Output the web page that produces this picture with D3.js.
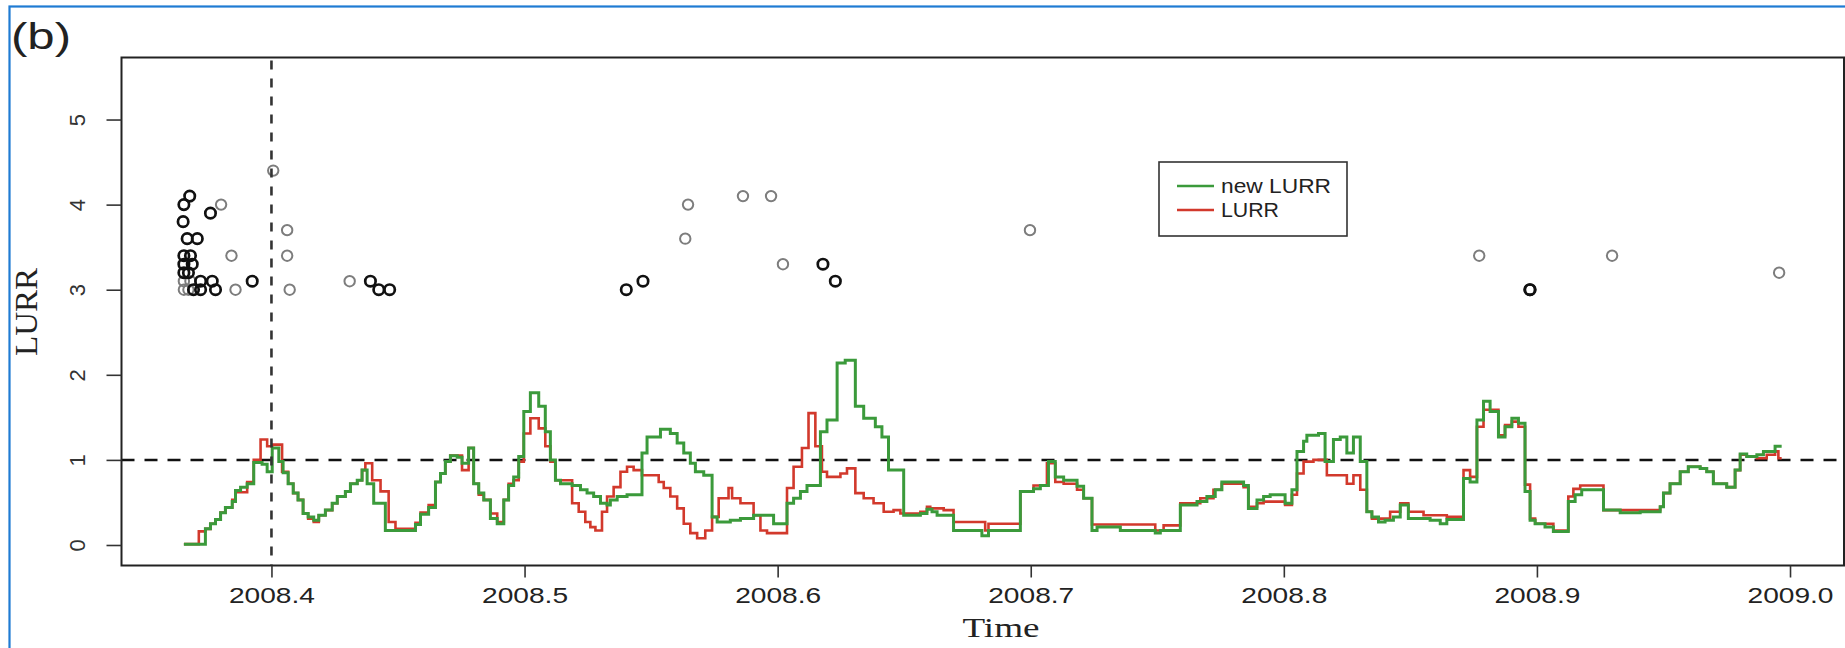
<!DOCTYPE html>
<html>
<head>
<meta charset="utf-8">
<script src="https://cdn.jsdelivr.net/npm/d3@7"></script>
<style>
  html, body { margin: 0; padding: 0; background: #fff; }
  svg { display: block; }
</style>
</head>
<body>
<svg id="chart" width="1845" height="648"></svg>
<script>
// ---------------- data ----------------
const xTicks = [2008.4, 2008.5, 2008.6, 2008.7, 2008.8, 2008.9, 2009.0];
const yTicks = [0, 1, 2, 3, 4, 5];
const thresholdValue = 1;
const markerTime = 2008.4;

// step series: [time, value] change points
const newLurr = [[2008.3654,0.01],[2008.3739,0.19],[2008.3759,0.25],[2008.3779,0.30],[2008.3799,0.38],[2008.3818,0.44],[2008.3845,0.51],[2008.3858,0.64],[2008.3878,0.68],[2008.3904,0.72],[2008.3930,0.97],[2008.3963,0.95],[2008.3983,0.86],[2008.4003,1.14],[2008.4029,0.98],[2008.4046,0.85],[2008.4066,0.72],[2008.4086,0.61],[2008.4105,0.53],[2008.4125,0.37],[2008.4145,0.33],[2008.4167,0.29],[2008.4187,0.35],[2008.4213,0.41],[2008.4240,0.49],[2008.4260,0.57],[2008.4292,0.63],[2008.4312,0.72],[2008.4339,0.76],[2008.4358,0.88],[2008.4378,0.72],[2008.4404,0.49],[2008.4450,0.17],[2008.4569,0.24],[2008.4589,0.36],[2008.4621,0.44],[2008.4648,0.74],[2008.4668,0.84],[2008.4687,0.98],[2008.4707,1.05],[2008.4734,1.03],[2008.4753,0.96],[2008.4779,1.14],[2008.4799,0.72],[2008.4819,0.61],[2008.4839,0.53],[2008.4865,0.31],[2008.4892,0.25],[2008.4918,0.53],[2008.4937,0.70],[2008.4957,0.80],[2008.4977,1.04],[2008.4997,1.57],[2008.5023,1.79],[2008.5056,1.63],[2008.5082,1.33],[2008.5102,1.00],[2008.5122,0.76],[2008.5142,0.72],[2008.5188,0.70],[2008.5221,0.65],[2008.5247,0.61],[2008.5273,0.57],[2008.5300,0.49],[2008.5326,0.47],[2008.5339,0.53],[2008.5366,0.57],[2008.5405,0.59],[2008.5464,1.08],[2008.5484,1.27],[2008.5537,1.36],[2008.5576,1.31],[2008.5603,1.20],[2008.5629,1.08],[2008.5655,0.96],[2008.5675,0.86],[2008.5708,0.82],[2008.5741,0.33],[2008.5761,0.27],[2008.5813,0.29],[2008.5853,0.31],[2008.5905,0.35],[2008.5984,0.25],[2008.6037,0.49],[2008.6063,0.55],[2008.6090,0.63],[2008.6116,0.70],[2008.6169,1.33],[2008.6195,1.47],[2008.6235,2.14],[2008.6267,2.17],[2008.6307,1.63],[2008.6340,1.49],[2008.6386,1.39],[2008.6412,1.27],[2008.6438,0.88],[2008.6498,0.35],[2008.6564,0.37],[2008.6590,0.42],[2008.6610,0.39],[2008.6630,0.35],[2008.6695,0.17],[2008.6807,0.11],[2008.6833,0.17],[2008.6959,0.63],[2008.7011,0.66],[2008.7038,0.70],[2008.7070,0.98],[2008.7097,0.80],[2008.7130,0.76],[2008.7183,0.69],[2008.7209,0.55],[2008.7242,0.17],[2008.7262,0.21],[2008.7354,0.17],[2008.7492,0.14],[2008.7512,0.17],[2008.7591,0.47],[2008.7657,0.51],[2008.7696,0.57],[2008.7729,0.65],[2008.7755,0.74],[2008.7841,0.70],[2008.7860,0.43],[2008.7894,0.53],[2008.7920,0.57],[2008.7946,0.59],[2008.8005,0.49],[2008.8032,0.65],[2008.8052,1.10],[2008.8078,1.22],[2008.8091,1.29],[2008.8137,1.31],[2008.8163,0.98],[2008.8196,1.24],[2008.8223,1.27],[2008.8249,1.08],[2008.8275,1.27],[2008.8302,0.98],[2008.8328,0.39],[2008.8348,0.33],[2008.8374,0.27],[2008.8400,0.29],[2008.8433,0.33],[2008.8460,0.47],[2008.8492,0.31],[2008.8578,0.29],[2008.8618,0.25],[2008.8644,0.30],[2008.8710,0.78],[2008.8736,0.74],[2008.8763,1.47],[2008.8789,1.69],[2008.8815,1.57],[2008.8848,1.27],[2008.8874,1.39],[2008.8901,1.49],[2008.8927,1.43],[2008.8953,0.63],[2008.8973,0.29],[2008.8993,0.25],[2008.9032,0.21],[2008.9065,0.16],[2008.9124,0.51],[2008.9151,0.59],[2008.9177,0.65],[2008.9263,0.41],[2008.9329,0.38],[2008.9408,0.39],[2008.9487,0.45],[2008.9500,0.61],[2008.9526,0.72],[2008.9566,0.86],[2008.9598,0.92],[2008.9645,0.90],[2008.9671,0.86],[2008.9697,0.72],[2008.9750,0.68],[2008.9783,0.88],[2008.9803,1.07],[2008.9829,1.04],[2008.9869,1.06],[2008.9895,1.10],[2008.9941,1.16],[2008.9967,1.16]];

const lurr = [[2008.3654,0.01],[2008.3713,0.16],[2008.3739,0.19],[2008.3759,0.25],[2008.3779,0.30],[2008.3799,0.38],[2008.3818,0.44],[2008.3845,0.53],[2008.3858,0.62],[2008.3904,0.74],[2008.3930,1.00],[2008.3957,1.24],[2008.3983,1.16],[2008.4003,1.18],[2008.4042,0.86],[2008.4066,0.72],[2008.4086,0.61],[2008.4105,0.53],[2008.4125,0.37],[2008.4145,0.31],[2008.4167,0.27],[2008.4187,0.35],[2008.4213,0.41],[2008.4240,0.49],[2008.4260,0.57],[2008.4292,0.63],[2008.4312,0.72],[2008.4339,0.76],[2008.4358,0.88],[2008.4371,0.96],[2008.4398,0.76],[2008.4431,0.63],[2008.4463,0.27],[2008.4490,0.19],[2008.4569,0.26],[2008.4589,0.38],[2008.4621,0.47],[2008.4648,0.74],[2008.4668,0.84],[2008.4687,0.98],[2008.4707,1.05],[2008.4753,0.88],[2008.4779,1.14],[2008.4799,0.72],[2008.4819,0.59],[2008.4839,0.53],[2008.4865,0.37],[2008.4892,0.27],[2008.4918,0.53],[2008.4937,0.72],[2008.4957,0.76],[2008.4977,0.98],[2008.4997,1.31],[2008.5023,1.49],[2008.5056,1.37],[2008.5082,1.16],[2008.5102,0.98],[2008.5122,0.76],[2008.5188,0.49],[2008.5214,0.39],[2008.5240,0.27],[2008.5260,0.21],[2008.5280,0.17],[2008.5306,0.39],[2008.5326,0.57],[2008.5352,0.68],[2008.5379,0.86],[2008.5405,0.92],[2008.5431,0.88],[2008.5464,0.82],[2008.5530,0.74],[2008.5550,0.67],[2008.5576,0.57],[2008.5603,0.43],[2008.5629,0.25],[2008.5655,0.14],[2008.5682,0.08],[2008.5714,0.17],[2008.5741,0.33],[2008.5767,0.55],[2008.5806,0.67],[2008.5820,0.55],[2008.5853,0.49],[2008.5905,0.35],[2008.5932,0.17],[2008.5958,0.14],[2008.6037,0.67],[2008.6063,0.92],[2008.6096,1.14],[2008.6122,1.55],[2008.6149,1.16],[2008.6175,0.86],[2008.6195,0.80],[2008.6248,0.84],[2008.6274,0.90],[2008.6307,0.61],[2008.6340,0.55],[2008.6379,0.49],[2008.6419,0.39],[2008.6458,0.41],[2008.6485,0.37],[2008.6564,0.39],[2008.6590,0.45],[2008.6603,0.43],[2008.6656,0.41],[2008.6695,0.27],[2008.6820,0.17],[2008.6833,0.25],[2008.6959,0.63],[2008.7011,0.70],[2008.7064,0.96],[2008.7097,0.74],[2008.7130,0.72],[2008.7183,0.65],[2008.7209,0.55],[2008.7242,0.24],[2008.7492,0.17],[2008.7525,0.23],[2008.7591,0.49],[2008.7670,0.55],[2008.7722,0.65],[2008.7755,0.72],[2008.7841,0.68],[2008.7860,0.45],[2008.7894,0.49],[2008.7920,0.51],[2008.8005,0.47],[2008.8032,0.59],[2008.8052,0.84],[2008.8078,0.98],[2008.8117,1.00],[2008.8170,0.82],[2008.8249,0.72],[2008.8275,0.82],[2008.8302,0.65],[2008.8328,0.39],[2008.8348,0.31],[2008.8420,0.39],[2008.8460,0.49],[2008.8492,0.39],[2008.8552,0.35],[2008.8644,0.33],[2008.8710,0.88],[2008.8736,0.80],[2008.8763,1.39],[2008.8789,1.59],[2008.8848,1.29],[2008.8874,1.41],[2008.8901,1.45],[2008.8927,1.39],[2008.8953,0.71],[2008.8973,0.31],[2008.8993,0.25],[2008.9065,0.17],[2008.9124,0.57],[2008.9144,0.66],[2008.9171,0.70],[2008.9263,0.41],[2008.9487,0.45],[2008.9500,0.61],[2008.9526,0.72],[2008.9566,0.86],[2008.9598,0.92],[2008.9645,0.90],[2008.9671,0.86],[2008.9697,0.72],[2008.9750,0.68],[2008.9783,0.88],[2008.9803,1.06],[2008.9829,1.04],[2008.9869,1.02],[2008.9908,1.06],[2008.9941,1.10],[2008.9954,1.02],[2008.9967,1.02]];

// earthquake events: [time, magnitude]
const blackEvents = [[2008.3677,4.1],[2008.3654,4.0],[2008.3759,3.9],[2008.3651,3.8],[2008.3667,3.6],[2008.3707,3.6],[2008.3654,3.4],[2008.3680,3.4],[2008.3654,3.3],[2008.3687,3.3],[2008.3654,3.2],[2008.3672,3.2],[2008.3720,3.1],[2008.3766,3.1],[2008.3924,3.1],[2008.3692,3.0],[2008.3720,3.0],[2008.3779,3.0],[2008.4391,3.1],[2008.4424,3.0],[2008.4467,3.0],[2008.5402,3.0],[2008.5468,3.1],[2008.6179,3.3],[2008.6228,3.1],[2008.8972,3.0],[2008.8973,3.0]];
const greyEvents = [[2008.3801,4.0],[2008.3842,3.4],[2008.3654,3.1],[2008.3680,3.1],[2008.3654,3.0],[2008.3672,3.0],[2008.3858,3.0],[2008.4007,4.4],[2008.4062,3.7],[2008.4062,3.4],[2008.4072,3.0],[2008.4309,3.1],[2008.5635,3.6],[2008.5646,4.0],[2008.5863,4.1],[2008.5974,4.1],[2008.6021,3.3],[2008.6997,3.7],[2008.8772,3.4],[2008.9297,3.4],[2008.9957,3.2]];

const legendLabels = ["new LURR", "LURR"];
const seriesColors = ["#3b9a3b", "#d2392c"];

// ---------------- layout ----------------
const W = 1845, H = 648;
const plot = { left: 121.5, right: 1844, top: 57.5, bottom: 565.5 };

const svg = d3.select("#chart");
svg.append("rect").attr("width", W).attr("height", H).attr("fill", "#fff");

const x = d3.scaleLinear().domain([2008.34075, 2009.02133]).range([plot.left, plot.right]);
const y = d3.scaleLinear().domain([-0.241, 5.729]).range([plot.bottom, plot.top]);

const sans = "'Liberation Sans', Arial, Helvetica, sans-serif";
const serif = "'Liberation Serif', 'Times New Roman', serif";

// blue outer frame
svg.append("rect").attr("x", 9.5).attr("y", 6.5).attr("width", 1845).attr("height", 700)
  .attr("fill", "none").attr("stroke", "#1f7bd3").attr("stroke-width", 2.2);

// panel label
svg.append("text").attr("x", 11).attr("y", 49).attr("font-family", sans).attr("font-size", 37)
  .attr("textLength", 60).attr("lengthAdjust", "spacingAndGlyphs").attr("fill", "#222").text("(b)");

svg.append("clipPath").attr("id", "pclip").append("rect")
  .attr("x", plot.left).attr("y", plot.top).attr("width", plot.right - plot.left).attr("height", plot.bottom - plot.top);

const g = svg.append("g").attr("clip-path", "url(#pclip)");

// reference lines
g.append("line").attr("x1", plot.left).attr("x2", plot.right)
  .attr("y1", y(thresholdValue)).attr("y2", y(thresholdValue))
  .attr("stroke", "#111").attr("stroke-width", 2.5).attr("stroke-dasharray", "13,10");
svg.append("line").attr("x1", x(markerTime)).attr("x2", x(markerTime))
  .attr("y1", plot.top + 3).attr("y2", plot.bottom)
  .attr("stroke", "#333").attr("stroke-width", 2.6).attr("stroke-dasharray", "9,9");

// step lines
const stepLine = d3.line().x(d => x(d[0])).y(d => y(d[1])).curve(d3.curveStepAfter);
g.append("path").datum(lurr).attr("d", stepLine).attr("fill", "none")
  .attr("stroke", seriesColors[1]).attr("stroke-width", 2.6);
g.append("path").datum(newLurr).attr("d", stepLine).attr("fill", "none")
  .attr("stroke", seriesColors[0]).attr("stroke-width", 3);

// events
g.selectAll("circle.grey").data(greyEvents).enter().append("circle").attr("class", "grey")
  .attr("cx", d => x(d[0])).attr("cy", d => y(d[1])).attr("r", 5.2)
  .attr("fill", "none").attr("stroke", "#7d7d7d").attr("stroke-width", 2);
g.selectAll("circle.black").data(blackEvents).enter().append("circle").attr("class", "black")
  .attr("cx", d => x(d[0])).attr("cy", d => y(d[1])).attr("r", 5.2)
  .attr("fill", "none").attr("stroke", "#111").attr("stroke-width", 2.7);

// box
svg.append("rect").attr("x", plot.left).attr("y", plot.top)
  .attr("width", plot.right - plot.left).attr("height", plot.bottom - plot.top)
  .attr("fill", "none").attr("stroke", "#222").attr("stroke-width", 2);

// x axis
const xAxis = svg.append("g").attr("transform", `translate(0,${plot.bottom})`)
  .call(d3.axisBottom(x).tickValues(xTicks).tickFormat(d3.format(".1f")).tickSize(12).tickPadding(10));
xAxis.select(".domain").remove();
xAxis.selectAll(".tick line").attr("stroke", "#333").attr("stroke-width", 1.6);
xAxis.selectAll(".tick text").attr("font-family", sans).attr("font-size", 22).attr("fill", "#222")
  .attr("textLength", 86).attr("lengthAdjust", "spacingAndGlyphs");

// y axis
const yAxis = svg.append("g").attr("transform", `translate(${plot.left},0)`)
  .call(d3.axisLeft(y).tickValues(yTicks).tickFormat(d3.format("d")).tickSize(15));
yAxis.select(".domain").remove();
yAxis.selectAll(".tick line").attr("stroke", "#333").attr("stroke-width", 1.6);
yAxis.selectAll(".tick text")
  .attr("font-family", sans).attr("font-size", 22).attr("fill", "#333")
  .attr("x", 0).attr("dy", null).attr("text-anchor", "middle")
  .attr("transform", "translate(-44,0) rotate(-90)")
  .attr("y", 0).attr("dominant-baseline", "central");

// axis titles
svg.append("text").attr("transform", "translate(37,312) rotate(-90)")
  .attr("text-anchor", "middle").attr("font-family", serif).attr("font-size", 32)
  .attr("textLength", 88).attr("lengthAdjust", "spacingAndGlyphs").attr("fill", "#222").text("LURR");
svg.append("text").attr("x", 1001).attr("y", 637)
  .attr("text-anchor", "middle").attr("font-family", serif).attr("font-size", 28)
  .attr("textLength", 77).attr("lengthAdjust", "spacingAndGlyphs").attr("fill", "#222").text("Time");

// legend
const lg = svg.append("g").attr("transform", "translate(1159,162)");
lg.append("rect").attr("width", 188).attr("height", 74).attr("fill", "#fff")
  .attr("stroke", "#333").attr("stroke-width", 1.6);
legendLabels.forEach((lab, i) => {
  const yy = 24 + i * 24;
  lg.append("line").attr("x1", 18).attr("x2", 55).attr("y1", yy).attr("y2", yy)
    .attr("stroke", seriesColors[i]).attr("stroke-width", 2.4);
  const t = lg.append("text").attr("x", 62).attr("y", yy + 7).attr("font-family", sans).attr("font-size", 21)
    .attr("fill", "#222").text(lab);
  t.attr("textLength", i === 0 ? 110 : 58).attr("lengthAdjust", "spacingAndGlyphs");
});
</script>
</body>
</html>
